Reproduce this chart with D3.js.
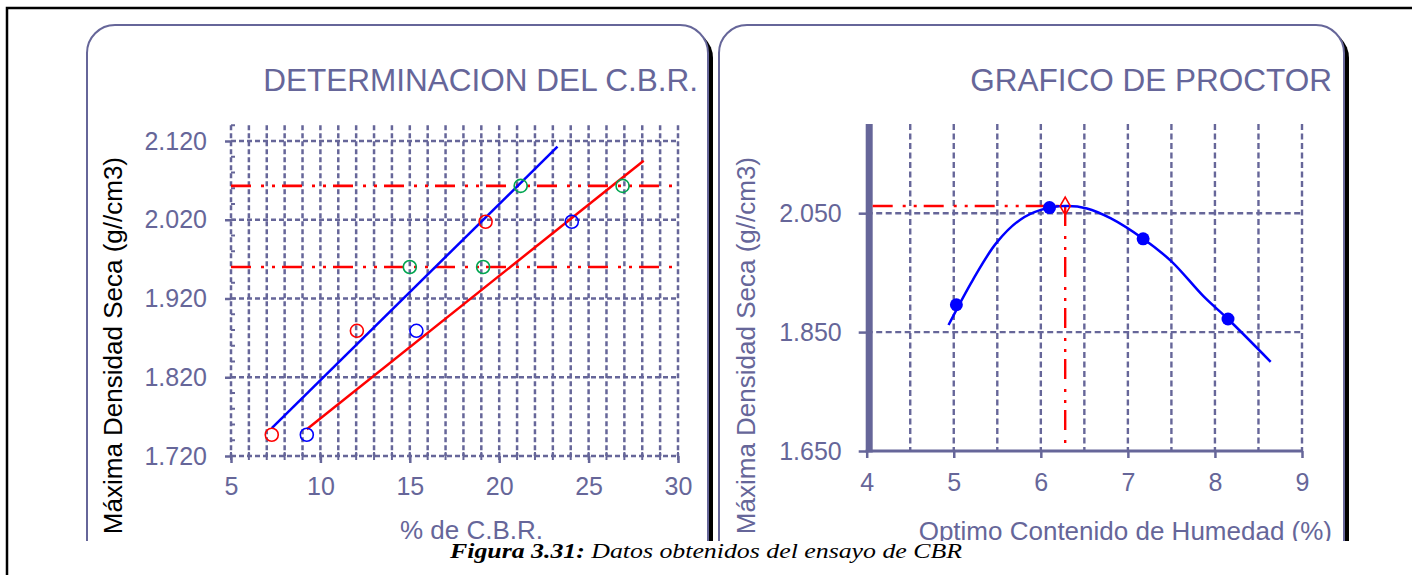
<!DOCTYPE html>
<html>
<head>
<meta charset="utf-8">
<script src="https://cdn.jsdelivr.net/npm/d3@7"></script>
<style>
  body { margin: 0; background: #fff; }
  text { font-family: "Liberation Sans", Arial, sans-serif; }
</style>
</head>
<body>
<script>
// ---- data ----
// CBR chart (left)
var cbrRedX = [7.28, 12.04, 19.24];
var cbrRedY = [1.747, 1.879, 2.0175];
var cbrBlueX = [9.24, 15.37, 24.06];
var cbrBlueY = [1.747, 1.879, 2.0175];
var cbrGreenX = [15.0, 19.1, 21.2, 26.9];
var cbrGreenY = [1.960, 1.960, 2.063, 2.063];
var blueFitX = [7.28, 23.26];
var blueFitY = [1.7555, 2.1128];
var redFitX = [9.24, 28.08];
var redFitY = [1.754, 2.095];
var densityLevels = [2.063, 1.960];
var cbrXTicks = [5, 10, 15, 20, 25, 30];
var cbrYTicks = [1.72, 1.82, 1.92, 2.02, 2.12];

// Proctor chart (right)
var humX = [5.03, 6.10, 7.175, 8.15];
var humY = [1.896, 2.0594, 2.0068, 1.872];
var curveX = [4.94, 5.22, 5.49, 5.76, 6.0, 6.28, 6.53, 6.80, 7.175, 7.50, 7.87, 8.15, 8.64];
var curveY = [1.862, 1.938, 2.000, 2.0387, 2.0556, 2.062, 2.058, 2.0416, 2.007, 1.969, 1.910, 1.872, 1.800];
var optimoX = 6.28, optimoY = 2.062;
var proXTicks = [4, 5, 6, 7, 8, 9];
var proYTicks = [1.65, 1.85, 2.05];

var ink = "#666699";
var dashDot = "20,10,3,8,3,7";

var svg = d3.select("body")
  .append("svg")
  .attr("width", 1412)
  .attr("height", 575);

svg.append("defs").append("clipPath").attr("id", "cut")
  .append("rect").attr("x", 0).attr("y", 0).attr("width", 1412).attr("height", 541);

// outer frame
svg.append("rect")
  .attr("x", 7).attr("y", 8)
  .attr("width", 1600).attr("height", 800)
  .style("fill", "none")
  .style("stroke", "#000")
  .style("stroke-width", 2.5);

var page = svg.append("g").attr("clip-path", "url(#cut)");

// panels with black shadow
function panel(x, w) {
  page.append("rect")
    .attr("x", x + 5).attr("y", 25 + 5)
    .attr("width", w).attr("height", 700)
    .attr("rx", 28).attr("ry", 28)
    .style("fill", "#000");
  page.append("rect")
    .attr("x", x).attr("y", 25)
    .attr("width", w).attr("height", 700)
    .attr("rx", 28).attr("ry", 28)
    .style("fill", "#fff")
    .style("stroke", ink)
    .style("stroke-width", 2);
}
panel(87, 621);
panel(719, 625);

// ================= left : DETERMINACION DEL C.B.R. =================
var x1 = d3.scaleLinear().domain([5, 30]).range([231, 678]);
var y1 = d3.scaleLinear().domain([1.72, 2.14]).range([456, 125.25]);
var g1 = page.append("g");

g1.append("text")
  .attr("x", 698).attr("y", 91)
  .attr("text-anchor", "end")
  .style("font-size", "31.5px")
  .style("fill", ink)
  .text("DETERMINACION DEL C.B.R.");

// vertical grid every 1 %
g1.selectAll(".vg").data(d3.range(6, 31)).enter().append("line")
  .attr("x1", d => x1(d)).attr("x2", d => x1(d))
  .attr("y1", y1(2.14)).attr("y2", y1(1.72))
  .style("stroke", ink).style("stroke-width", 2.5)
  .style("stroke-dasharray", "5,3");

// horizontal grid at major ticks
g1.selectAll(".hg").data(cbrYTicks.slice(1)).enter().append("line")
  .attr("x1", x1(5)).attr("x2", x1(30))
  .attr("y1", d => y1(d)).attr("y2", d => y1(d))
  .style("stroke", ink).style("stroke-width", 2.5)
  .style("stroke-dasharray", "5,3");

// minor ticks on y axis (every 0.02)
g1.selectAll(".ym").data(d3.range(0, 22).map(i => 1.72 + i * 0.02)).enter().append("line")
  .attr("x1", x1(5)).attr("x2", x1(5) + 4)
  .attr("y1", d => y1(d)).attr("y2", d => y1(d))
  .style("stroke", ink).style("stroke-width", 2);

// minor ticks on x axis (every 1)
g1.selectAll(".xm").data(d3.range(5, 31)).enter().append("line")
  .attr("x1", d => x1(d)).attr("x2", d => x1(d))
  .attr("y1", y1(1.72) - 4).attr("y2", y1(1.72) + 4)
  .style("stroke", ink).style("stroke-width", 2);

var ax1 = g1.append("g")
  .attr("transform", "translate(" + x1(5) + ",0)")
  .call(d3.axisLeft(y1).tickValues(cbrYTicks).tickFormat(d3.format(".3f"))
    .tickSizeInner(6).tickSizeOuter(0).tickPadding(18));
ax1.select(".domain").remove();
ax1.append("line")
  .attr("x1", 0).attr("x2", 0).attr("y1", y1(2.14)).attr("y2", y1(1.72))
  .style("stroke", ink).style("stroke-width", 2.5).style("stroke-dasharray", "5,3");

var bx1 = g1.append("g")
  .attr("transform", "translate(0," + y1(1.72) + ")")
  .call(d3.axisBottom(x1).tickValues(cbrXTicks).tickFormat(d3.format("d"))
    .tickSizeInner(7).tickSizeOuter(0).tickPadding(14));
bx1.select(".domain").remove();
bx1.append("line")
  .attr("x1", x1(5)).attr("x2", x1(30)).attr("y1", 0).attr("y2", 0)
  .style("stroke", ink).style("stroke-width", 2.5).style("stroke-dasharray", "5,3");

[ax1, bx1].forEach(function (a) {
  a.selectAll(".tick line").style("stroke", ink).style("stroke-width", 2.5);
  a.selectAll(".tick text").style("fill", ink).style("font-size", "25px")
    .style("font-family", "'Liberation Sans', Arial, sans-serif");
});

// red dash-dot density levels
g1.selectAll(".lvl").data(densityLevels).enter().append("line")
  .attr("x1", x1(5)).attr("x2", x1(30))
  .attr("y1", d => y1(d)).attr("y2", d => y1(d))
  .style("stroke", "#ff0000").style("stroke-width", 2.6)
  .style("stroke-dasharray", dashDot);

var line1 = d3.line().x(d => x1(d[0])).y(d => y1(d[1]));
g1.append("path")
  .attr("d", line1(d3.zip(blueFitX, blueFitY)))
  .style("fill", "none").style("stroke", "#0000ff").style("stroke-width", 2.5);
g1.append("path")
  .attr("d", line1(d3.zip(redFitX, redFitY)))
  .style("fill", "none").style("stroke", "#ff0000").style("stroke-width", 2.5);

function rings(xs, ys, color) {
  g1.selectAll(null).data(d3.zip(xs, ys)).enter().append("circle")
    .attr("cx", d => x1(d[0])).attr("cy", d => y1(d[1]))
    .attr("r", 6.5)
    .style("fill", "none").style("stroke", color).style("stroke-width", 1.6);
}
rings(cbrRedX, cbrRedY, "#ff0000");
rings(cbrBlueX, cbrBlueY, "#0000ff");
rings(cbrGreenX, cbrGreenY, "#00a550");

g1.append("text")
  .attr("x", 400).attr("y", 539)
  .style("font-size", "26px").style("fill", ink)
  .text("% de C.B.R.");

g1.append("text")
  .attr("transform", "translate(122,157) rotate(-90)")
  .attr("text-anchor", "end")
  .style("font-size", "26px").style("fill", "#000")
  .text("Máxima Densidad Seca (g//cm3)");

// ================= right : GRAFICO DE PROCTOR =================
var x2 = d3.scaleLinear().domain([4, 9]).range([866.7, 1302]);
var y2 = d3.scaleLinear().domain([1.65, 2.2]).range([451, 124]);
var g2 = page.append("g");

g2.append("text")
  .attr("x", 1332).attr("y", 91)
  .attr("text-anchor", "end")
  .style("font-size", "31.5px")
  .style("fill", ink)
  .text("GRAFICO DE PROCTOR");

g2.selectAll(".vg").data(d3.range(4.5, 9.01, 0.5)).enter().append("line")
  .attr("x1", d => x2(d)).attr("x2", d => x2(d))
  .attr("y1", y2(2.2)).attr("y2", y2(1.65))
  .style("stroke", ink).style("stroke-width", 2.4)
  .style("stroke-dasharray", "6,3.5");

g2.selectAll(".hg").data(proYTicks.slice(1)).enter().append("line")
  .attr("x1", x2(4)).attr("x2", x2(9))
  .attr("y1", d => y2(d)).attr("y2", d => y2(d))
  .style("stroke", ink).style("stroke-width", 2.4)
  .style("stroke-dasharray", "6,3.5");

var ax2 = g2.append("g")
  .attr("transform", "translate(" + x2(4) + ",0)")
  .call(d3.axisLeft(y2).tickValues(proYTicks).tickFormat(d3.format(".3f"))
    .tickSizeInner(8).tickSizeOuter(0).tickPadding(17));
ax2.select(".domain").remove();

var bx2 = g2.append("g")
  .attr("transform", "translate(0," + y2(1.65) + ")")
  .call(d3.axisBottom(x2).tickValues(proXTicks).tickFormat(d3.format("d"))
    .tickSizeInner(7).tickSizeOuter(0).tickPadding(15));
bx2.select(".domain").remove();

[ax2, bx2].forEach(function (a) {
  a.selectAll(".tick line").style("stroke", ink).style("stroke-width", 2.5);
  a.selectAll(".tick text").style("fill", ink).style("font-size", "25px")
    .style("font-family", "'Liberation Sans', Arial, sans-serif");
});

// solid axes
g2.append("line")
  .attr("x1", x2(4) - 1).attr("x2", x2(9))
  .attr("y1", y2(1.65)).attr("y2", y2(1.65))
  .style("stroke", ink).style("stroke-width", 3);
g2.append("line")
  .attr("x1", x2(4) + 2.5).attr("x2", x2(4) + 2.5)
  .attr("y1", y2(2.2)).attr("y2", y2(1.65) + 1.5)
  .style("stroke", ink).style("stroke-width", 7);

// optimum guide lines
g2.append("line")
  .attr("x1", x2(4) + 6).attr("x2", x2(optimoX))
  .attr("y1", y2(optimoY)).attr("y2", y2(optimoY))
  .style("stroke", "#ff0000").style("stroke-width", 2.4)
  .style("stroke-dasharray", dashDot);
g2.append("line")
  .attr("x1", x2(optimoX)).attr("x2", x2(optimoX))
  .attr("y1", y2(optimoY)).attr("y2", y2(1.65))
  .style("stroke", "#ff0000").style("stroke-width", 2.4)
  .style("stroke-dasharray", dashDot);

g2.append("path")
  .attr("d", d3.line().x(d => x2(d[0])).y(d => y2(d[1])).curve(d3.curveCatmullRom)(d3.zip(curveX, curveY)))
  .style("fill", "none").style("stroke", "#0000ff").style("stroke-width", 2.5);

g2.append("path")
  .attr("d", d3.symbol().type(d3.symbolDiamond).size(90)())
  .attr("transform", "translate(" + x2(optimoX) + "," + y2(optimoY) + ")")
  .style("fill", "none").style("stroke", "#ff0000").style("stroke-width", 1.6);

g2.selectAll(".pt").data(d3.zip(humX, humY)).enter().append("circle")
  .attr("cx", d => x2(d[0])).attr("cy", d => y2(d[1]))
  .attr("r", 6.5)
  .style("fill", "#0000ff");

g2.append("text")
  .attr("x", 1332).attr("y", 540)
  .attr("text-anchor", "end")
  .style("font-size", "26px").style("fill", ink)
  .text("Optimo Contenido de Humedad (%)");

g2.append("text")
  .attr("transform", "translate(755,157) rotate(-90)")
  .attr("text-anchor", "end")
  .style("font-size", "26px").style("fill", ink)
  .text("Máxima Densidad Seca (g//cm3)");

// caption
var cap = svg.append("text")
  .attr("x", 450).attr("y", 558)
  .attr("textLength", 512)
  .attr("lengthAdjust", "spacingAndGlyphs")
  .style("font-family", "'Liberation Serif', 'Times New Roman', serif")
  .style("font-size", "22px")
  .style("font-style", "italic");
cap.append("tspan").style("font-weight", "bold").text("Figura 3.31:");
cap.append("tspan").text(" Datos obtenidos del ensayo de CBR");
</script>
</body>
</html>
